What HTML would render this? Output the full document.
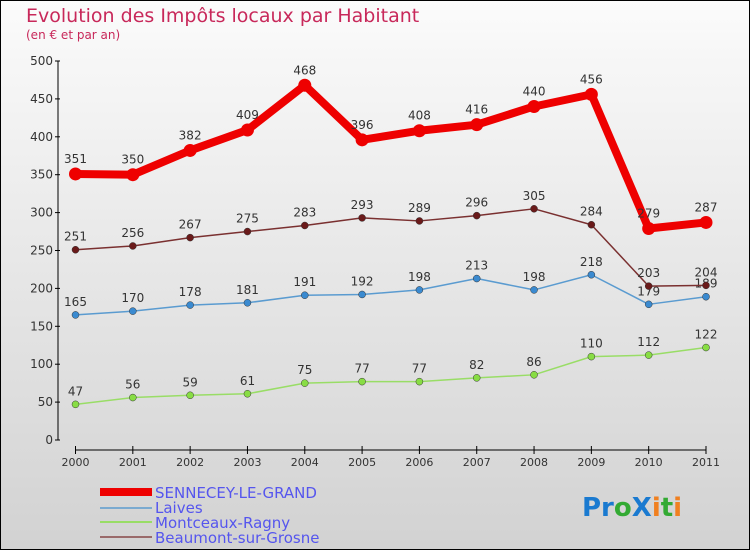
<!DOCTYPE html>
<html><head><meta charset="utf-8"><style>
body{margin:0}
#c{width:750px;height:550px;position:relative;font-family:"DejaVu Sans","Liberation Sans",sans-serif}
</style></head><body>
<div id="c">
<svg id="s" width="750" height="550" xmlns="http://www.w3.org/2000/svg">
<defs><linearGradient id="bg" x1="0" y1="0" x2="0" y2="1"><stop offset="0" stop-color="#fbfbfb"/><stop offset="1" stop-color="#d2d2d2"/></linearGradient></defs>
<rect x="0.5" y="0.5" width="749" height="549" fill="url(#bg)" stroke="#000"/>
<text x="26" y="22" font-size="19" fill="#c8285a">Evolution des Impôts locaux par Habitant</text>
<text x="26" y="39" font-size="12" fill="#c8285a">(en € et par an)</text>
<g id="axes"></g><g id="series"></g>
<g>
<rect x="100" y="488" width="52" height="8" fill="#e00"/>
<text x="155" y="498" font-size="15" fill="#5555ee">SENNECEY-LE-GRAND</text>
<line x1="100" y1="508" x2="152" y2="508" stroke="#7aaad0" stroke-width="2"/>
<text x="155" y="513" font-size="15" fill="#5555ee">Laives</text>
<line x1="100" y1="522" x2="152" y2="522" stroke="#99dd66" stroke-width="2"/>
<text x="155" y="528" font-size="15" fill="#5555ee">Montceaux-Ragny</text>
<line x1="100" y1="537" x2="152" y2="537" stroke="#9a6a6a" stroke-width="2"/>
<text x="155" y="543" font-size="15" fill="#5555ee">Beaumont-sur-Grosne</text>
</g>
<text x="582" y="516" font-size="26" font-weight="bold"><tspan fill="#1a7ad0">Pr</tspan><tspan fill="#33aa33">o</tspan><tspan fill="#1a7ad0">X</tspan><tspan fill="#f08020">i</tspan><tspan fill="#33aa33">t</tspan><tspan fill="#f08020">i</tspan></text>
</svg></div>
<script>
const years=[2000,2001,2002,2003,2004,2005,2006,2007,2008,2009,2010,2011];
const yTicks=[0,50,100,150,200,250,300,350,400,450,500];
const sennecey=[351,350,382,409,468,396,408,416,440,456,279,287];
const laives=[165,170,178,181,191,192,198,213,198,218,179,189];
const montceaux=[47,56,59,61,75,77,77,82,86,110,112,122];
const beaumont=[251,256,267,275,283,293,289,296,305,284,203,204];
const NS="http://www.w3.org/2000/svg";
function X(i){return 75.5+i*(706-75.5)/11}
function Y(v){return 440-v*(379/500)}
function mk(t,a,p){const e=document.createElementNS(NS,t);for(const k in a)e.setAttribute(k,a[k]);p.appendChild(e);return e}
const ax=document.getElementById('axes');
mk('line',{x1:58,y1:Y(0),x2:58,y2:Y(500),stroke:'#000'},ax);
yTicks.forEach(v=>{mk('line',{x1:55,x2:60,y1:Y(v),y2:Y(v),stroke:'#000'},ax);
const t=mk('text',{x:53,y:Y(v)+4,'font-size':12,'text-anchor':'end',fill:'#333'},ax);t.textContent=v;

});
mk('line',{x1:X(0),x2:X(11),y1:450,y2:450,stroke:'#000'},ax);
years.forEach((y,i)=>{mk('line',{x1:X(i),x2:X(i),y1:446,y2:454,stroke:'#000'},ax);
const t=mk('text',{x:X(i),y:466,'font-size':11,'text-anchor':'middle',fill:'#333'},ax);t.textContent=y;

});
const sg=document.getElementById('series');
function draw(d,name,col,dot,w,r,lblOff){
const g=mk('g',{},sg);


mk('polyline',{points:d.map((v,i)=>X(i)+','+Y(v)).join(' '),fill:'none',stroke:col,'stroke-width':w,'stroke-linejoin':'round'},g);
d.forEach((v,i)=>{const c=mk('circle',{cx:X(i),cy:Y(v),r:r,fill:dot,stroke:w>3?'none':'#333','stroke-width':0.5},g);


const t=mk('text',{x:X(i),y:Y(v)-lblOff,'font-size':12,'text-anchor':'middle',fill:'#333'},g);t.textContent=v;

});
}
draw(montceaux,'montceaux','#99dd66','#88dd44',1.5,3.5,9);
draw(laives,'laives','#5a9bd0','#3a8ad0',1.5,3.5,9);
draw(beaumont,'beaumont','#7a3030','#6a1a1a',1.5,3.5,9);
draw(sennecey,'sennecey','#ee0000','#ee0000',8,6.5,11);
</script>
</body></html>
